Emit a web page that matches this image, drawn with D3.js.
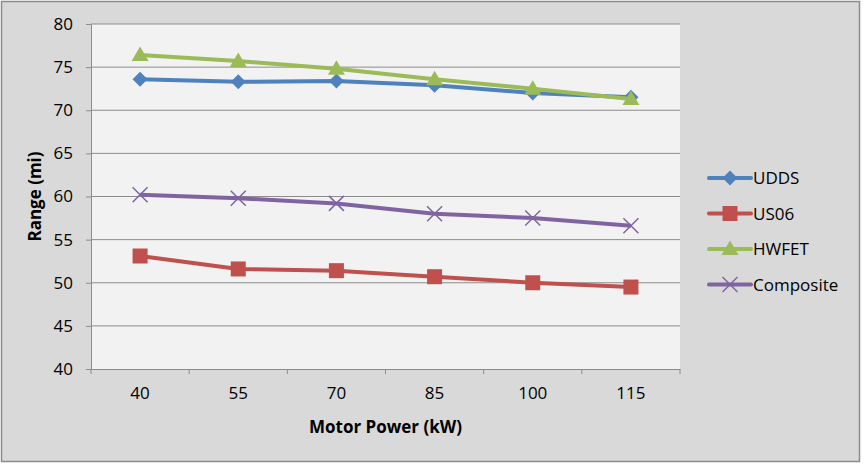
<!DOCTYPE html>
<html>
<head>
<meta charset="utf-8">
<script src="https://cdn.jsdelivr.net/npm/d3@7"></script>
<style>
  body { margin: 0; background: #fff; }
  text { font-family: "Open Sans", Lato, sans-serif; }
</style>
</head>
<body>
<div id="chart"></div>
<script>
const w = 866;
const h = 466;

const powers = ['40', '55', '70', '85', '100', '115'];
const udds = [73.6, 73.3, 73.4, 72.9, 72.0, 71.5];
const us06 = [53.1, 51.6, 51.4, 50.7, 50.0, 49.5];
const hwfet = [76.4, 75.7, 74.8, 73.6, 72.5, 71.3];
const composite = [60.2, 59.8, 59.2, 58.0, 57.5, 56.6];
const yTicks = [40, 45, 50, 55, 60, 65, 70, 75, 80];

const series = [
    { name: 'UDDS', values: udds, color: '#4F81BD', marker: 'diamond' },
    { name: 'US06', values: us06, color: '#C0504D', marker: 'square' },
    { name: 'HWFET', values: hwfet, color: '#9BBB59', marker: 'triangle' },
    { name: 'Composite', values: composite, color: '#8064A2', marker: 'x' }
];

const plot = { left: 91, right: 680, top: 24, bottom: 369 };

const svg = d3.select('#chart')
    .append('svg')
    .attr('width', w)
    .attr('height', h);

// chart background + border
svg.append('rect')
    .attr('x', 1.5).attr('y', 1.5)
    .attr('width', 858).attr('height', 460)
    .attr('fill', '#D9D9D9')
    .attr('stroke', '#8C8C8C')
    .attr('stroke-width', 1.5);

svg.append('rect')
    .attr('x', plot.left).attr('y', plot.top)
    .attr('width', plot.right - plot.left).attr('height', plot.bottom - plot.top)
    .attr('fill', '#F2F2F2');

const xScale = d3.scaleBand()
    .domain(powers)
    .range([plot.left, plot.right]);

const yScale = d3.scaleLinear()
    .domain([40, 80])
    .range([plot.bottom, plot.top]);

// gridlines
svg.append('g')
    .selectAll('line')
    .data(yTicks.slice(1))
    .enter()
    .append('line')
    .attr('x1', plot.left).attr('x2', plot.right)
    .attr('y1', d => yScale(d)).attr('y2', d => yScale(d))
    .attr('stroke', '#8C8C8C')
    .attr('stroke-width', 1);

// axes
const xAxis = d3.axisBottom(xScale).tickSize(0).tickPadding(18);
const yAxis = d3.axisLeft(yScale).tickValues(yTicks).tickSize(5).tickPadding(13);

const gx = svg.append('g')
    .attr('transform', 'translate(0,' + plot.bottom + ')')
    .call(xAxis);
gx.select('.domain').attr('stroke', '#8C8C8C');
gx.selectAll('text').style('font-size', '17px').attr('fill', '#000');

// category boundary ticks
svg.append('g')
    .selectAll('line')
    .data(d3.range(powers.length + 1))
    .enter()
    .append('line')
    .attr('x1', i => plot.left + i * xScale.step())
    .attr('x2', i => plot.left + i * xScale.step())
    .attr('y1', plot.bottom).attr('y2', plot.bottom + 5)
    .attr('stroke', '#8C8C8C');

const gy = svg.append('g')
    .attr('transform', 'translate(' + plot.left + ',0)')
    .call(yAxis);
gy.select('.domain').attr('stroke', '#8C8C8C');
gy.selectAll('line').attr('stroke', '#8C8C8C');
gy.selectAll('text').style('font-size', '17px').attr('fill', '#000');

svg.append('text')
    .attr('x', (plot.left + plot.right) / 2)
    .attr('y', 433)
    .attr('text-anchor', 'middle')
    .style('font-size', '17px')
    .style('font-weight', 'bold')
    .text('Motor Power (kW)');

svg.append('text')
    .attr('transform', 'translate(41,' + ((plot.top + plot.bottom) / 2) + ') rotate(-90)')
    .attr('text-anchor', 'middle')
    .style('font-size', '17px')
    .style('font-weight', 'bold')
    .text('Range (mi)');

const cx = i => xScale(powers[i]) + xScale.bandwidth() / 2;

function drawMarker(g, type, color) {
    if (type === 'diamond') {
        g.append('path').attr('d', 'M0,-7.5L7.5,0L0,7.5L-7.5,0Z').attr('fill', color);
    } else if (type === 'square') {
        g.append('rect').attr('x', -7.5).attr('y', -7.5).attr('width', 15).attr('height', 15).attr('fill', color);
    } else if (type === 'triangle') {
        g.append('path').attr('d', 'M0,-8.5L8.5,6L-8.5,6Z').attr('fill', color);
    } else {
        g.append('path').attr('d', 'M-7.5,-7.5L7.5,7.5M-7.5,7.5L7.5,-7.5')
            .attr('stroke', color).attr('stroke-width', 1.5).attr('fill', 'none');
    }
}

const line = d3.line()
    .x((d, i) => cx(i))
    .y(d => yScale(d));

series.forEach(s => {
    svg.append('path')
        .datum(s.values)
        .attr('d', line)
        .attr('fill', 'none')
        .attr('stroke', s.color)
        .attr('stroke-width', 4)
        .attr('stroke-linejoin', 'round');

    s.values.forEach((v, i) => {
        const g = svg.append('g').attr('transform', 'translate(' + cx(i) + ',' + yScale(v) + ')');
        drawMarker(g, s.marker, s.color);
    });
});

// legend
series.forEach((s, i) => {
    const y = 178 + i * 35.5;
    svg.append('line')
        .attr('x1', 709).attr('x2', 751)
        .attr('y1', y).attr('y2', y)
        .attr('stroke', s.color)
        .attr('stroke-width', 4)
        .attr('stroke-linecap', 'round');
    const g = svg.append('g').attr('transform', 'translate(730,' + y + ')');
    drawMarker(g, s.marker, s.color);
    svg.append('text')
        .attr('x', 753)
        .attr('y', y + 6)
        .style('font-size', '17px')
        .text(s.name);
});
</script>
</body>
</html>
